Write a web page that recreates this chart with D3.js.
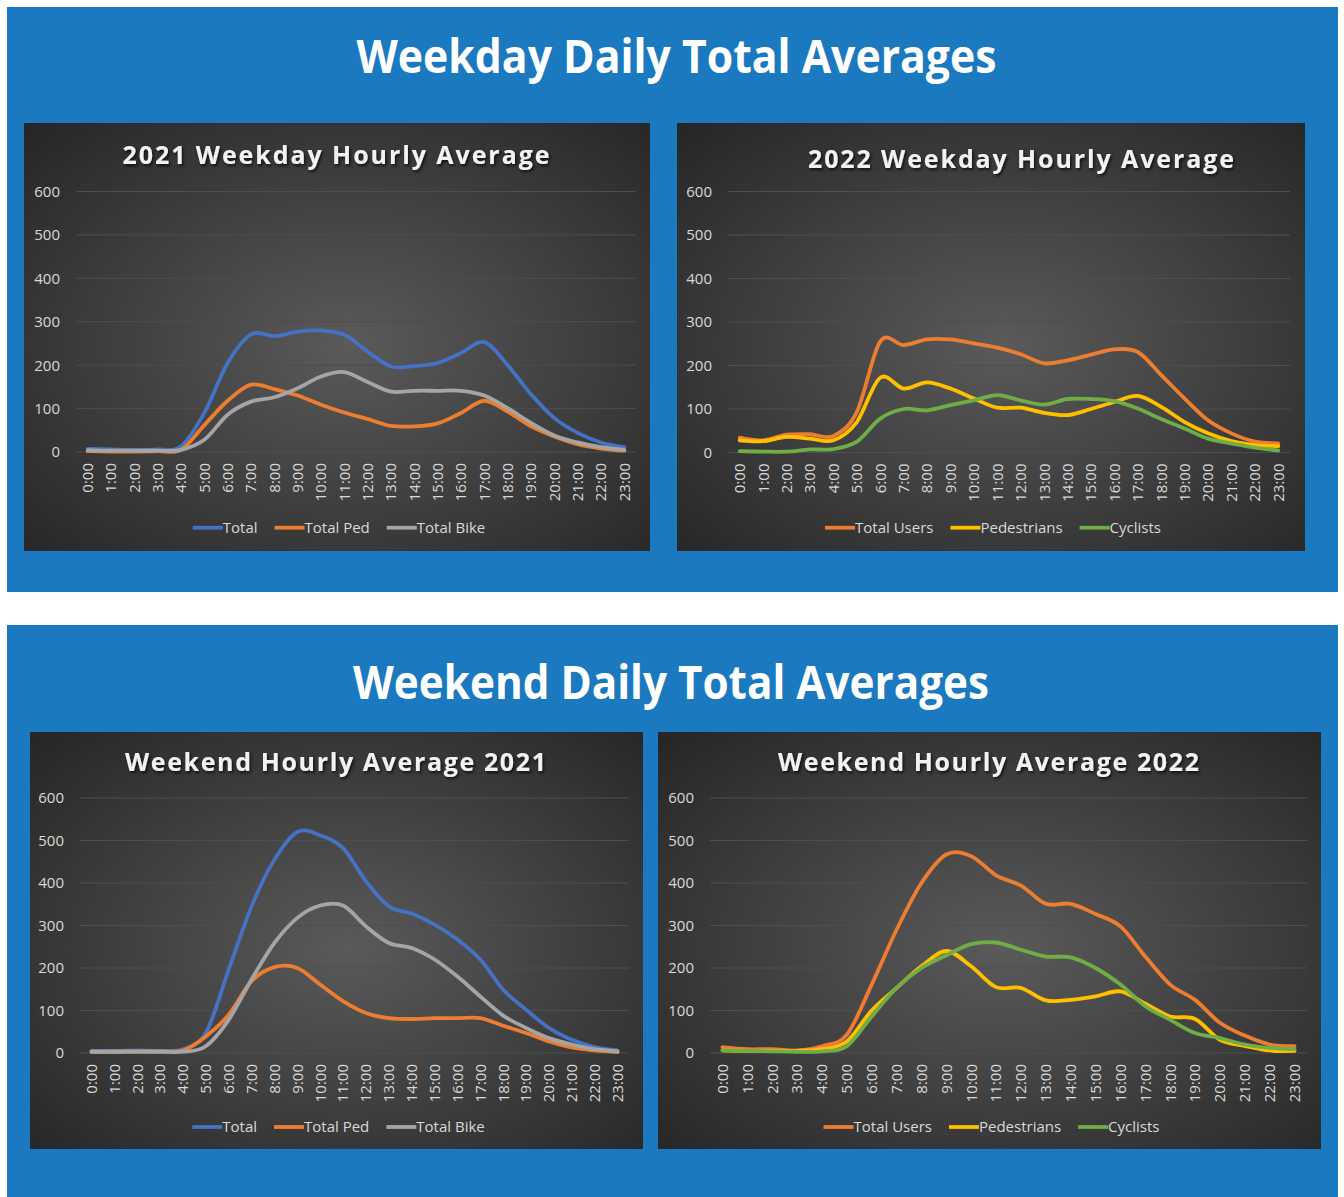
<!DOCTYPE html>
<html>
<head>
<meta charset="utf-8">
<script src="https://cdn.jsdelivr.net/npm/d3@7"></script>
<style>
  body { margin: 0; background: #fff; }
  svg { display: block; }
  text { font-family: "Open Sans", "Noto Sans", sans-serif; }
</style>
</head>
<body>
<svg id="page" width="1344" height="1197"></svg>
<script>

const hours = d3.range(24).map(function(h) { return h + ':00'; });
const yTicks = [0, 100, 200, 300, 400, 500, 600];

// 2021 weekday
const wd21Total = [7, 6, 5, 6, 13, 90, 205, 271, 267, 277, 280, 270, 231, 197, 198, 205, 228, 253, 200, 133, 78, 44, 22, 11];
const wd21Ped   = [2, 1, 1, 2, 5, 62, 118, 155, 145, 130, 109, 91, 76, 60, 59, 66, 90, 118, 93, 59, 36, 18, 8, 3];
const wd21Bike  = [4, 3, 3, 3, 5, 28, 86, 116, 126, 147, 174, 184, 161, 139, 141, 141, 141, 130, 101, 67, 38, 22, 11, 5];

// 2022 weekday
const wd22Users = [34, 28, 41, 42, 38, 93, 255, 247, 260, 260, 251, 241, 226, 205, 212, 225, 237, 231, 178, 124, 74, 44, 25, 21];
const wd22Ped   = [28, 26, 36, 32, 28, 70, 172, 147, 161, 147, 124, 103, 103, 91, 86, 100, 116, 130, 105, 70, 44, 26, 17, 15];
const wd22Cyc   = [3, 2, 2, 7, 8, 25, 78, 100, 97, 109, 120, 132, 120, 110, 123, 123, 118, 101, 77, 55, 32, 21, 11, 5];

// 2021 weekend
const we21Total = [5, 5, 6, 5, 9, 47, 196, 345, 455, 520, 512, 482, 404, 345, 328, 302, 267, 220, 149, 102, 59, 31, 14, 6];
const we21Ped   = [3, 3, 4, 4, 6, 39, 90, 169, 202, 200, 161, 122, 94, 82, 80, 82, 82, 82, 64, 47, 27, 13, 6, 2];
const we21Bike  = [3, 3, 3, 3, 3, 16, 78, 173, 259, 318, 347, 347, 298, 259, 247, 220, 180, 133, 88, 59, 35, 20, 9, 4];

// 2022 weekend
const we22Users = [14, 9, 9, 6, 16, 43, 161, 290, 400, 467, 463, 418, 394, 351, 351, 327, 298, 227, 161, 125, 71, 41, 20, 16];
const we22Ped   = [6, 5, 5, 5, 9, 27, 100, 153, 204, 240, 204, 155, 153, 124, 125, 133, 145, 116, 86, 80, 31, 17, 6, 5];
const we22Cyc   = [6, 5, 4, 3, 4, 16, 86, 153, 200, 230, 256, 260, 243, 227, 225, 200, 161, 110, 78, 47, 35, 20, 12, 9];

const BLUE = '#4472c4', ORANGE = '#ed7d31', GRAY = '#a5a5a5', YELLOW = '#ffc000', GREEN = '#70ad47';

const panels = [
  {y: 7, h: 585, title: 'Weekday Daily Total Averages', cx: 676.5, base: 72.5, tw: 640},
  {y: 625, h: 572, title: 'Weekend Daily Total Averages', cx: 671, base: 699, tw: 636}
];

const charts = [
  {
    x: 24, y: 123, w: 626, h: 428, gridL: 52, gridR: 612, y600: 68.5, y0: 329,
    title: '2021 Weekday Hourly Average', tx: 312, ty: 41, tw: 427, ly: 404.7,
    series: [
      {name: 'Total', color: BLUE, values: wd21Total},
      {name: 'Total Ped', color: ORANGE, values: wd21Ped},
      {name: 'Total Bike', color: GRAY, values: wd21Bike}
    ]
  },
  {
    x: 677, y: 123, w: 628, h: 428, gridL: 51, gridR: 613, y600: 68.5, y0: 329.5,
    title: '2022 Weekday Hourly Average', tx: 344, ty: 45, tw: 426, ly: 404.7,
    series: [
      {name: 'Total Users', color: ORANGE, values: wd22Users},
      {name: 'Pedestrians', color: YELLOW, values: wd22Ped},
      {name: 'Cyclists', color: GREEN, values: wd22Cyc}
    ]
  },
  {
    x: 30, y: 732, w: 613, h: 417, gridL: 50, gridR: 599, y600: 66, y0: 321,
    title: 'Weekend Hourly Average 2021', tx: 305.5, ty: 39, tw: 421, ly: 395,
    series: [
      {name: 'Total', color: BLUE, values: we21Total},
      {name: 'Total Ped', color: ORANGE, values: we21Ped},
      {name: 'Total Bike', color: GRAY, values: we21Bike}
    ]
  },
  {
    x: 658, y: 732, w: 663, h: 417, gridL: 52, gridR: 649, y600: 66, y0: 321,
    title: 'Weekend Hourly Average 2022', tx: 330.5, ty: 39, tw: 421, ly: 395,
    series: [
      {name: 'Total Users', color: ORANGE, values: we22Users},
      {name: 'Pedestrians', color: YELLOW, values: we22Ped},
      {name: 'Cyclists', color: GREEN, values: we22Cyc}
    ]
  }
];


const svg = d3.select('#page');
const defs = svg.append('defs');

const grad = defs.append('radialGradient')
  .attr('id', 'chartBg')
  .attr('cx', '52%').attr('cy', '52%').attr('r', '75%');
grad.append('stop').attr('offset', '0%').attr('stop-color', '#5a5a5a');
grad.append('stop').attr('offset', '100%').attr('stop-color', '#242424');

const shadow = defs.append('filter').attr('id', 'titleShadow')
  .attr('x', '-10%').attr('y', '-40%').attr('width', '120%').attr('height', '180%');
shadow.append('feDropShadow')
  .attr('dx', 1.5).attr('dy', 2).attr('stdDeviation', 1.5)
  .attr('flood-color', '#000').attr('flood-opacity', 0.7);


// blue slides
panels.forEach(function(p) {
  svg.append('rect')
    .attr('x', 7).attr('y', p.y)
    .attr('width', 1331).attr('height', p.h)
    .attr('fill', '#1a79bf');

  svg.append('text')
    .attr('x', p.cx).attr('y', p.base)
    .attr('text-anchor', 'middle')
    .attr('font-size', 46)
    .attr('font-weight', 700)
    .attr('fill', '#fff')
    .attr('textLength', p.tw)
    .attr('lengthAdjust', 'spacingAndGlyphs')
    .text(p.title);
});


function drawChart(cfg) {

  const g = svg.append('g')
    .attr('transform', 'translate(' + cfg.x + ',' + cfg.y + ')');

  g.append('rect')
    .attr('width', cfg.w).attr('height', cfg.h)
    .attr('fill', 'url(#chartBg)');

  const x = d3.scalePoint()
    .domain(hours)
    .range([cfg.gridL, cfg.gridR])
    .padding(0.5);

  const y = d3.scaleLinear()
    .domain([0, 600])
    .range([cfg.y0, cfg.y600]);

  // gridlines
  g.selectAll('line.grid')
    .data(yTicks)
    .join('line')
    .attr('class', 'grid')
    .attr('x1', cfg.gridL).attr('x2', cfg.gridR)
    .attr('y1', function(d) { return y(d); })
    .attr('y2', function(d) { return y(d); })
    .attr('stroke', '#4e4e4e')
    .attr('stroke-width', 1);

  // y axis labels
  g.selectAll('text.ylab')
    .data(yTicks)
    .join('text')
    .attr('class', 'ylab')
    .attr('x', cfg.gridL - 16)
    .attr('y', function(d) { return y(d); })
    .attr('dy', '0.36em')
    .attr('text-anchor', 'end')
    .attr('font-size', 15)
    .attr('fill', '#d9d9d9')
    .text(String);

  // x axis labels, rotated
  g.selectAll('text.xlab')
    .data(hours)
    .join('text')
    .attr('class', 'xlab')
    .attr('transform', function(d) {
      return 'translate(' + x(d) + ',' + (cfg.y0 + 11) + ') rotate(-90)';
    })
    .attr('dy', '0.36em')
    .attr('text-anchor', 'end')
    .attr('font-size', 15)
    .attr('fill', '#d9d9d9')
    .text(String);

  const line = d3.line()
    .x(function(d, i) { return x(hours[i]); })
    .y(function(d) { return y(d); })
    .curve(d3.curveCatmullRom.alpha(0));

  g.selectAll('path.series')
    .data(cfg.series)
    .join('path')
    .attr('class', 'series')
    .attr('d', function(s) { return line(s.values); })
    .attr('fill', 'none')
    .attr('stroke', function(s) { return s.color; })
    .attr('stroke-width', 3.8)
    .attr('stroke-linecap', 'round')
    .attr('stroke-linejoin', 'round');

  // chart title
  g.append('text')
    .attr('x', cfg.tx).attr('y', cfg.ty)
    .attr('text-anchor', 'middle')
    .attr('font-size', 25)
    .attr('font-weight', 700)
    .attr('fill', '#f2f2f2')
    .attr('textLength', cfg.tw)
    .attr('lengthAdjust', 'spacing')
    .attr('filter', 'url(#titleShadow)')
    .text(cfg.title);

  // legend
  const legend = g.append('g');
  const items = legend.selectAll('g.item')
    .data(cfg.series)
    .join('g')
    .attr('class', 'item');

  items.append('line')
    .attr('x1', 0).attr('x2', 30)
    .attr('y1', 0).attr('y2', 0)
    .attr('stroke', function(s) { return s.color; })
    .attr('stroke-width', 3.8);

  items.append('text')
    .attr('x', 30)
    .attr('dy', '0.36em')
    .attr('font-size', 15)
    .attr('fill', '#d9d9d9')
    .text(function(s) { return s.name; });

  let offset = 0;
  const widths = [];
  items.each(function() {
    const tw = d3.select(this).select('text').node().getComputedTextLength();
    widths.push(30 + tw);
  });
  const gap = 17;
  const total = d3.sum(widths) + gap * (widths.length - 1);
  const start = cfg.w / 2 + 2 - total / 2;
  items.attr('transform', function(d, i) {
    const tx = start + offset;
    offset += widths[i] + gap;
    return 'translate(' + tx + ',' + cfg.ly + ')';
  });
}

charts.forEach(drawChart);

</script>
</body>
</html>
